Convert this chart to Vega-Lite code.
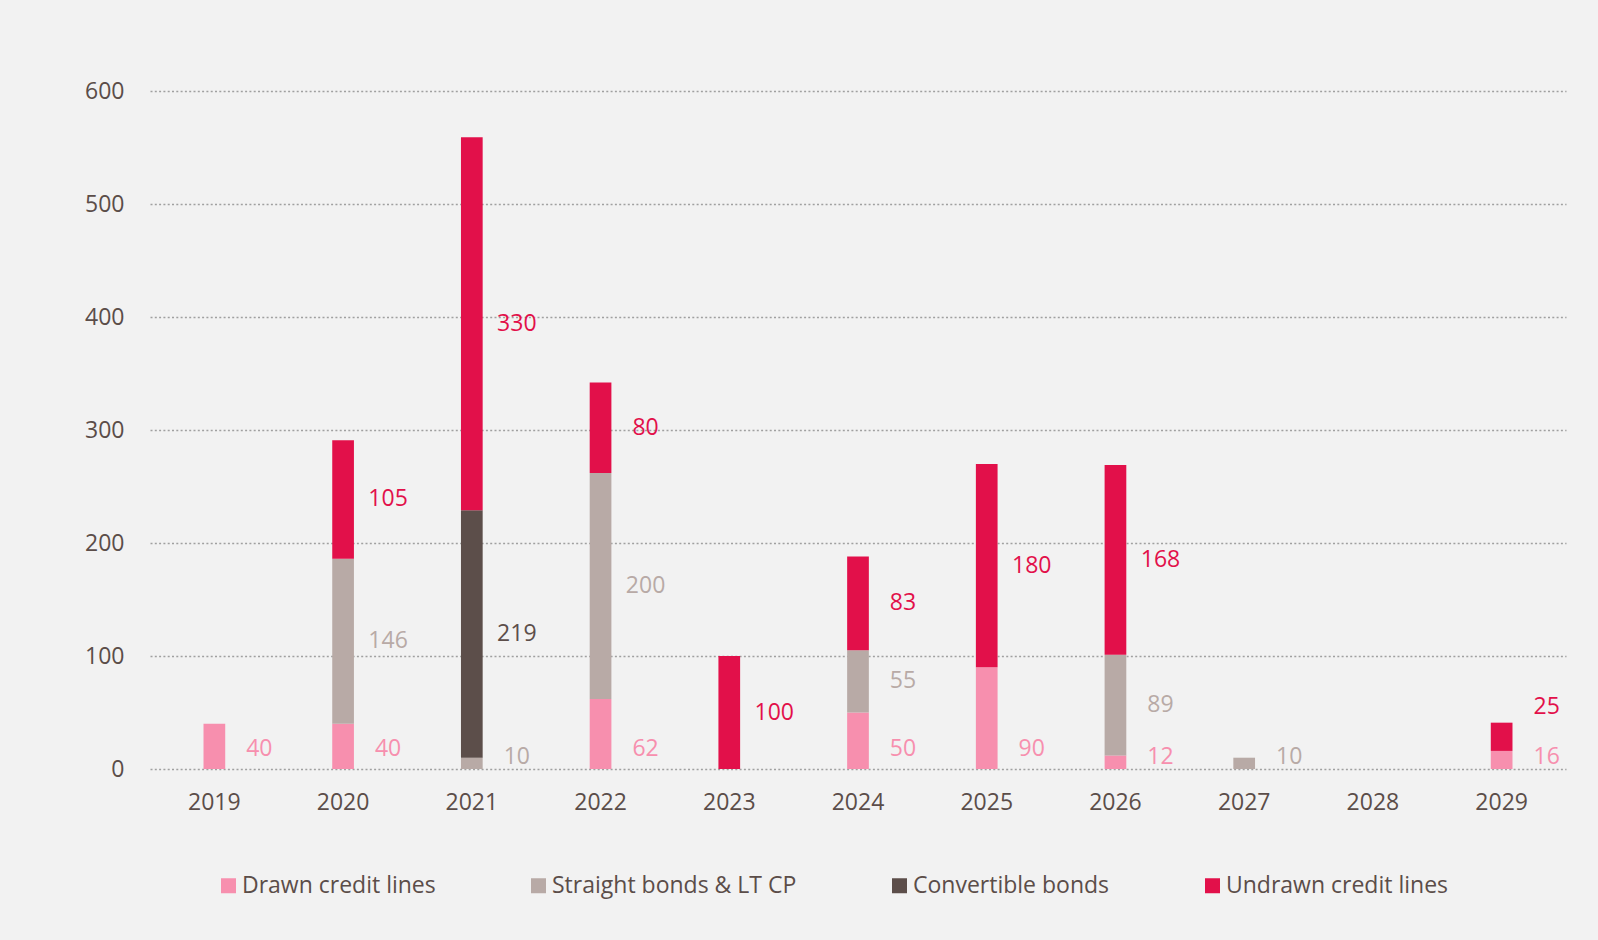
{
  "$schema": "https://vega.github.io/schema/vega-lite/v6.json",
  "width": 1416,
  "height": 678,
  "autosize": {"type": "none"},
  "padding": {"left": 150, "top": 91, "right": 32, "bottom": 171},
  "background": "#f2f2f2",
  "config": {
    "view": {"stroke": null},
    "font": "Open Sans",
    "axis": {"labelFont": "Open Sans", "labelFontSize": 23, "labelColor": "#5b4d49", "domain": false, "ticks": false},
    "legend": {"labelFont": "Open Sans", "labelFontSize": 23, "labelColor": "#5b4d49"}
  },
  "data": {
    "values": [
      {"year": "2019", "series": "Drawn credit lines", "value": 40},
      {"year": "2020", "series": "Drawn credit lines", "value": 40},
      {"year": "2022", "series": "Drawn credit lines", "value": 62},
      {"year": "2024", "series": "Drawn credit lines", "value": 50},
      {"year": "2025", "series": "Drawn credit lines", "value": 90},
      {"year": "2026", "series": "Drawn credit lines", "value": 12},
      {"year": "2029", "series": "Drawn credit lines", "value": 16},
      {"year": "2020", "series": "Straight bonds & LT CP", "value": 146},
      {"year": "2021", "series": "Straight bonds & LT CP", "value": 10},
      {"year": "2022", "series": "Straight bonds & LT CP", "value": 200},
      {"year": "2024", "series": "Straight bonds & LT CP", "value": 55},
      {"year": "2026", "series": "Straight bonds & LT CP", "value": 89},
      {"year": "2027", "series": "Straight bonds & LT CP", "value": 10},
      {"year": "2021", "series": "Convertible bonds", "value": 219},
      {"year": "2020", "series": "Undrawn credit lines", "value": 105},
      {"year": "2021", "series": "Undrawn credit lines", "value": 330},
      {"year": "2022", "series": "Undrawn credit lines", "value": 80},
      {"year": "2023", "series": "Undrawn credit lines", "value": 100},
      {"year": "2024", "series": "Undrawn credit lines", "value": 83},
      {"year": "2025", "series": "Undrawn credit lines", "value": 180},
      {"year": "2026", "series": "Undrawn credit lines", "value": 168},
      {"year": "2029", "series": "Undrawn credit lines", "value": 25}
    ]
  },
  "transform": [
    {"calculate": "indexof(['Drawn credit lines','Straight bonds & LT CP','Convertible bonds','Undrawn credit lines'], datum.series)", "as": "ord"}
  ],
  "layer": [
    {
      "mark": {"type": "bar", "size": 21.7},
      "encoding": {
        "x": {
          "field": "year", "type": "ordinal",
          "scale": {"domain": ["2019","2020","2021","2022","2023","2024","2025","2026","2027","2028","2029"], "paddingInner": 0, "paddingOuter": 0},
          "axis": {"title": null, "labelAngle": 0, "labelPadding": 22}
        },
        "y": {
          "field": "value", "type": "quantitative", "stack": "zero",
          "scale": {"domain": [0, 600]},
          "axis": {"title": null, "values": [0,100,200,300,400,500,600], "labelPadding": 26, "grid": true, "gridDash": [2, 2.3], "gridColor": "#a0a0a0", "gridWidth": 1.5}
        },
        "color": {
          "field": "series", "type": "nominal",
          "scale": {
            "domain": ["Drawn credit lines","Straight bonds & LT CP","Convertible bonds","Undrawn credit lines"],
            "range": ["#f78fae","#b8aaa6","#5c4e4a","#e2104a"]
          },
          "legend": {
            "title": null, "orient": "none", "direction": "horizontal",
            "legendX": 67, "legendY": 783,
            "symbolType": "square", "symbolSize": 225, "symbolStrokeWidth": 0,
            "labelOffset": 2, "columnPadding": 91, "labelLimit": 0
          }
        },
        "order": {"field": "ord", "type": "quantitative"}
      }
    },
    {
      "transform": [
        {"stack": "value", "groupby": ["year"], "sort": [{"field": "ord", "order": "ascending"}], "as": ["v0", "v1"]},
        {"calculate": "datum.ord < 2 && datum.v0 == 0 ? clamp((datum.v0 + datum.v1) / 2, 11, 18) : (datum.v0 > 0 && datum.v1 - datum.v0 < 30 ? datum.v1 + 14 : (datum.v0 + datum.v1) / 2)", "as": "mid"}
      ],
      "mark": {"type": "text", "dx": 45, "align": "center", "baseline": "middle", "fontSize": 23, "font": "Open Sans"},
      "encoding": {
        "x": {"field": "year", "type": "ordinal"},
        "y": {"field": "mid", "type": "quantitative"},
        "text": {"field": "value", "type": "quantitative"},
        "color": {"field": "series", "type": "nominal", "legend": null}
      }
    }
  ]
}
